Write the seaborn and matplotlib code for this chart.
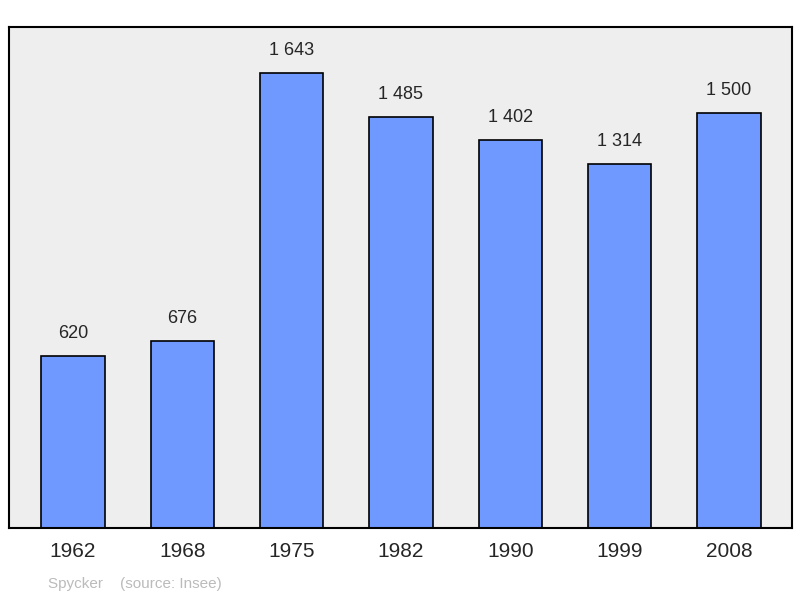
import matplotlib
matplotlib.use("Agg")
import matplotlib.pyplot as plt
import seaborn as sns
import pandas as pd

years = ["1962", "1968", "1975", "1982", "1990", "1999", "2008"]
population = [620, 676, 1643, 1485, 1402, 1314, 1500]
labels = ["620", "676", "1 643", "1 485", "1 402", "1 314", "1 500"]

df = pd.DataFrame({"year": years, "pop": population})

sns.set_style("white")
plt.rcParams["font.family"] = ["Liberation Sans", "DejaVu Sans"]

fig = plt.figure(figsize=(8, 5.98), dpi=100)
ax = fig.add_axes([9 / 800, 1 - 528 / 598, 783 / 800, 501 / 598])
ax.set_facecolor("#eeeeee")

sns.barplot(data=df, x="year", y="pop", color="#7099ff", saturation=1,
            width=0.58, edgecolor="black", linewidth=1.2, ax=ax)

for i, (v, s) in enumerate(zip(population, labels)):
    ax.text(i, v + 50, s, ha="center", va="bottom", fontsize=13)

ax.set_xlim(-0.585, 6.576)
ax.set_ylim(0, 1809)
ax.set_yticks([])
ax.set_xlabel("")
ax.set_ylabel("")
ax.tick_params(axis="x", labelsize=15, length=0, pad=10)
for sp in ax.spines.values():
    sp.set_visible(True)
    sp.set_color("black")
    sp.set_linewidth(1.5)

fig.text(48 / 800, 1 - 584 / 598, "Spycker    (source: Insee)", color="#bbbbbb",
         fontsize=11, va="center")

fig.savefig("out.png", dpi=100)
